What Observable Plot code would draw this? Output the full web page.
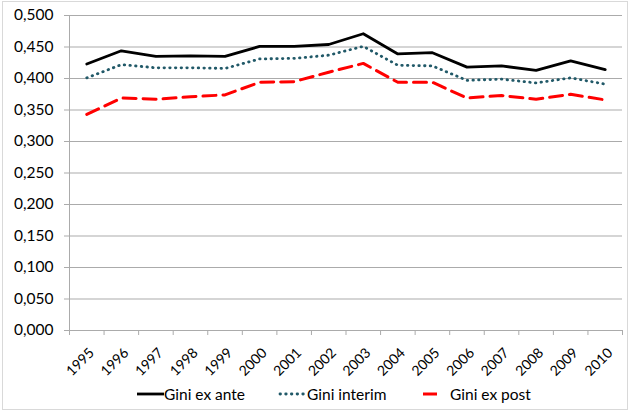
<!DOCTYPE html>
<html><head><meta charset="utf-8">
<script src="https://cdn.jsdelivr.net/npm/d3@7"></script>
<script src="https://cdn.jsdelivr.net/npm/@observablehq/plot@0.6"></script>
<style>
body{margin:0;background:#fff;font-family:Lato,sans-serif;}
#wrap{position:relative;width:630px;height:411px;overflow:hidden;}
#frame{position:absolute;left:2px;top:1px;width:624px;height:407px;border:1px solid #d9d9d9;}
#chart{position:absolute;left:0;top:0;}
#legend{position:absolute;top:384px;left:0;width:630px;height:20px;font-size:15.5px;color:#000;}
.item{position:absolute;top:0;height:20px;line-height:20px;white-space:nowrap;}
.swatch{position:absolute;top:0;}
</style></head><body>
<div id="wrap"><div id="frame"></div><div id="chart"></div><div id="legend"></div></div>
<script>
const years = [1995,1996,1997,1998,1999,2000,2001,2002,2003,2004,2005,2006,2007,2008,2009,2010];
const giniExAnte = [0.423,0.444,0.435,0.436,0.435,0.451,0.451,0.454,0.471,0.439,0.441,0.418,0.420,0.413,0.428,0.414];
const giniInterim = [0.401,0.422,0.417,0.417,0.416,0.431,0.432,0.437,0.451,0.421,0.420,0.397,0.399,0.393,0.401,0.391];
const giniExPost = [0.343,0.369,0.367,0.371,0.374,0.394,0.395,0.410,0.424,0.394,0.394,0.369,0.373,0.367,0.375,0.366];
const seriesNames = ["Gini ex ante","Gini interim","Gini ex post"];
const yTicks = [0,0.05,0.1,0.15,0.2,0.25,0.3,0.35,0.4,0.45,0.5];

const fmt = v => d3.format(".3f")(v).replace(".", ",");
const boundaries = years.map(y => y - 0.5).concat([years[years.length - 1] + 0.5]);
const toRows = arr => arr.map((v, i) => ({year: years[i], value: v}));
const grid = "#ababab";

const styles = [
  {stroke: "#000000", strokeWidth: 2.8},
  {stroke: "#215968", strokeWidth: 2.8, strokeDasharray: "0.5 5.2", strokeLinecap: "round"},
  {stroke: "#ff0000", strokeWidth: 3, strokeDasharray: "13 7"}
];
const seriesData = [giniExAnte, giniInterim, giniExPost];

const plot = Plot.plot({
  width: 630, height: 390,
  marginLeft: 69, marginRight: 8, marginTop: 15, marginBottom: 60,
  style: {fontFamily: "Lato, sans-serif", fontSize: "15.5px", color: "#000", background: "transparent"},
  x: {type: "linear", domain: [boundaries[0], boundaries[boundaries.length - 1]]},
  y: {domain: [0, 0.5]},
  marks: [
    Plot.gridY(yTicks.slice(1), {stroke: grid, strokeOpacity: 1}),
    Plot.axisY(yTicks, {tickSize: 5, tickPadding: 11, tickFormat: fmt, stroke: grid, label: null, fill: "#000"}),
    Plot.ruleX([boundaries[0]], {stroke: grid}),
    Plot.ruleY([0], {stroke: grid}),
    Plot.axisX(boundaries, {tickSize: 5, tickFormat: () => "", stroke: grid, label: null}),
    Plot.axisX(years, {tickSize: 0, tickRotate: -45, tickPadding: 20, dx: 5, fontSize: 14, tickFormat: d => String(d), label: null, fill: "#000"}),
    ...seriesData.map((arr, i) => Plot.lineY(toRows(arr), {x: "year", y: "value", ...styles[i]}))
  ]
});
document.getElementById("chart").appendChild(plot);

// legend
const legendPos = [
  {sx: 137, sw: 27, x1: 0, x2: 27, tx: 164},
  {sx: 278, sw: 29, x1: 2, x2: 28, tx: 307},
  {sx: 419, sw: 22, x1: 4, x2: 18, tx: 450}
];
const legend = document.getElementById("legend");
seriesNames.forEach((name, i) => {
  const p = legendPos[i], s = styles[i];
  const svg = `<svg class="swatch" width="${p.sw}" height="20" style="left:${p.sx}px"><line x1="${p.x1}" x2="${p.x2}" y1="10" y2="10" stroke="${s.stroke}" stroke-width="${s.strokeWidth}" ${i === 1 ? `stroke-dasharray="${s.strokeDasharray}" stroke-linecap="round"` : ""}/></svg>`;
  legend.insertAdjacentHTML("beforeend", svg + `<span class="item" style="left:${p.tx}px">${name}</span>`);
});
</script>
</body></html>
